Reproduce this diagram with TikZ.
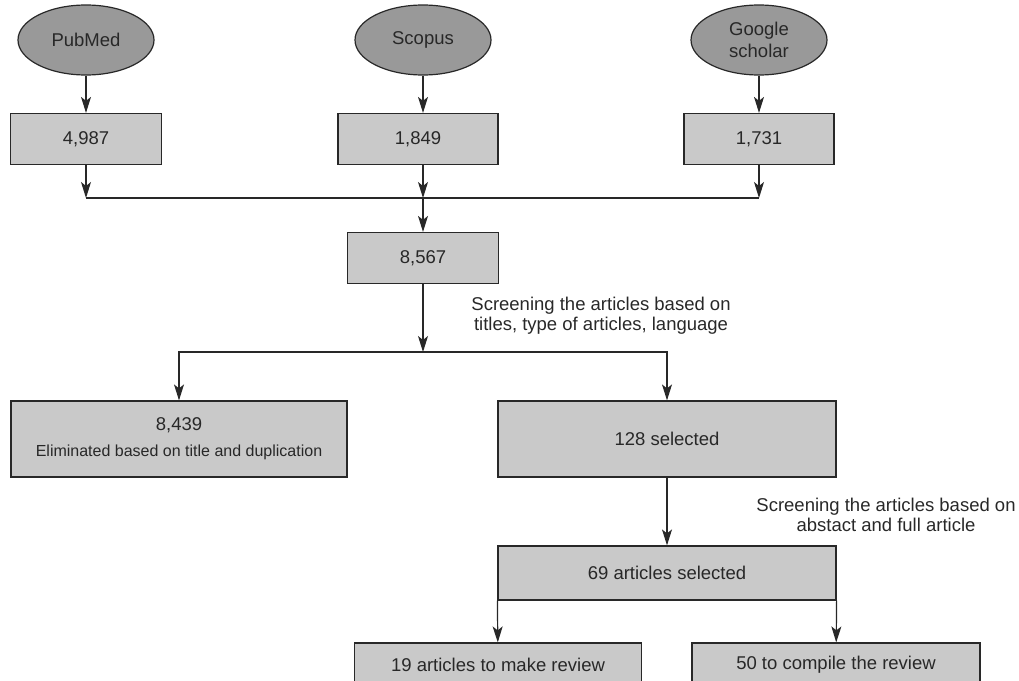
\documentclass[tikz,border=0pt]{standalone}
\usepackage{fontspec}
\setmainfont{Liberation Sans}
\usetikzlibrary{arrows.meta,positioning,shapes.geometric}
\definecolor{srcgray}{RGB}{153,153,153}
\definecolor{boxgray}{RGB}{201,201,201}
\definecolor{inkgray}{RGB}{40,40,40}
\tikzset{
    source/.style={
           ellipse,
           fill=srcgray,
           draw=inkgray, line width=1.2pt,
           minimum width=136pt,
           minimum height=70pt,
           inner sep=0pt,
           align=center,
           },
    count/.style={
           rectangle,
           fill=boxgray,
           draw=inkgray, line width=1.2pt,
           inner sep=2pt,
           text centered,
           align=center,
           },
}

\begin{document}
\begin{tikzpicture}[x=1pt,y=-1pt,->,>={Stealth[length=16pt,width=10pt,inset=4pt]},
                    line width=1.2pt,color=inkgray,font=\fontsize{18.5}{22}\selectfont]
  \clip (0,0) rectangle (1019,680);

  \node[source] (pubmed)  at (86,40)  {PubMed};
  \node[source] (scopus)  at (423,40) {Scopus};
  \node[source] (scholar) at (759,40) {Google\\scholar};

  \node[count, minimum width=151pt, minimum height=51pt] (pmcount) at (86,139)  {4,987};
  \node[count, minimum width=160pt, minimum height=51pt] (sccount) at (418,139) {1,849};
  \node[count, minimum width=150pt, minimum height=51pt] (gscount) at (759,139) {1,731};
  \node[count, minimum width=151pt, minimum height=51pt] (total)   at (423,258) {8,567};

  \node[count, minimum width=336pt, minimum height=76pt] (elim) at (179,439)
        {8,439\\[4pt]\fontsize{16}{19}\selectfont Eliminated based on title and duplication};
  \node[count, minimum width=338pt, minimum height=76pt] (sel)  at (667,439) {128 selected};
  \node[count, minimum width=338pt, minimum height=54pt] (art)  at (667,573) {69 articles selected};
  \node[count, minimum width=287pt, minimum height=44pt] (rev)  at (498,665) {19 articles to make review};
  \node[count, minimum width=288pt, minimum height=44pt] (comp) at (836,665) {50 to compile the review};

  \node[align=center, font=\fontsize{18.5}{20}\selectfont] (screen1) at (601,316)
        {Screening the articles based on\\titles, type of articles, language};
  \node[align=center, font=\fontsize{18.5}{20}\selectfont] (screen2) at (886,515)
        {Screening the articles based on\\abstact and full article};

  \coordinate (jl) at (86,198);
  \coordinate (jm) at (423,198);
  \coordinate (jr) at (759,198);
  \coordinate (split) at (423,352);

  \path (pubmed)  edge (pmcount)
        (scopus)  edge (scopus |- sccount.north)
        (scholar) edge (gscount)
        (pmcount) edge (jl)
        (jm |- sccount.south) edge (jm)
        (gscount) edge (jr)
        (jm)      edge (total)
        (total)   edge (split);
  \draw[-] (jl) -- (jr);
  \draw (split) -| (elim);
  \draw (split) -| (sel);
  \path (sel)            edge (art)
        (art.south west) edge (rev)
        (art.south east) edge (comp);
\end{tikzpicture}
\end{document}
